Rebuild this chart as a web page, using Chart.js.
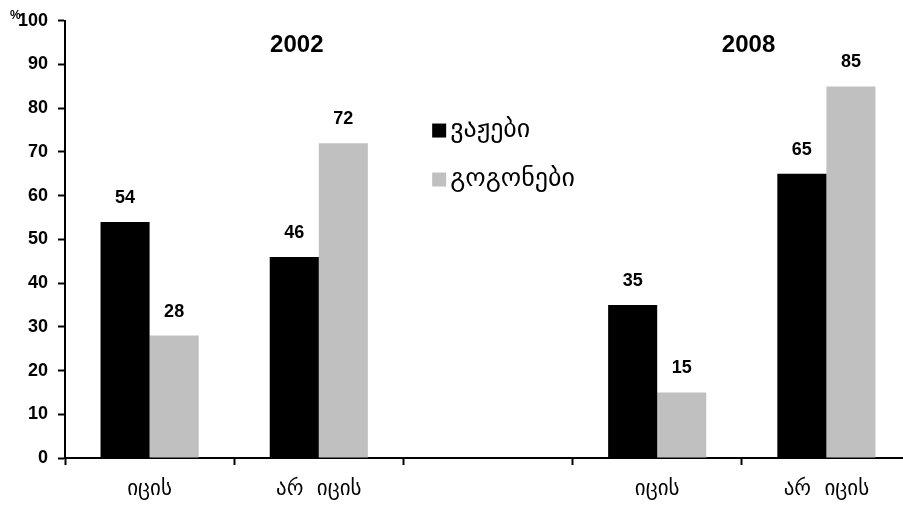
<!DOCTYPE html>
<html>
<head>
<meta charset="utf-8">
<script src="https://cdn.jsdelivr.net/npm/chart.js@4.4.1/dist/chart.umd.min.js"></script>
<style>
html,body{margin:0;padding:0;background:#fff;overflow:hidden;}
#wrap{width:903px;height:505px;position:relative;overflow:hidden;}
canvas{display:block;}
</style>
</head>
<body>
<div id="wrap"><canvas id="c" width="911" height="505"></canvas></div>
<script>
const categories = ["იცის", "არ  იცის", "", "იცის", "არ  იცის"];
const boys = [54, 46, null, 35, 65];
const girls = [28, 72, null, 15, 85];
const seriesNames = ["ვაჟები", "გოგონები"];
const yearTitles = ["2002", "2008"];
const yTicks = [0, 10, 20, 30, 40, 50, 60, 70, 80, 90, 100];

const BOLD = "'Liberation Sans', Arial, sans-serif";
const GEO = "'DejaVu Sans', serif";

const overlay = {
  id: 'overlay',
  afterDatasetsDraw(chart) {
    const ctx = chart.ctx;
    const xs = chart.scales.x, ys = chart.scales.y;
    ctx.save();
    ctx.font = "bold 18px " + BOLD;
    ctx.fillStyle = "#000";
    ctx.textAlign = "center";
    ctx.textBaseline = "middle";
    chart.data.datasets.forEach((ds, di) => {
      const meta = chart.getDatasetMeta(di);
      meta.data.forEach((bar, i) => {
        const v = ds.data[i];
        if (v === null || v === undefined) return;
        ctx.fillText(String(v), bar.x, bar.y - 24);
      });
    });
    ctx.font = "bold 24px " + BOLD;
    ctx.fillText(yearTitles[0], xs.getPixelForValue(0.87), ys.getPixelForValue(94.3));
    ctx.fillText(yearTitles[1], xs.getPixelForValue(3.54), ys.getPixelForValue(94.3));
    ctx.font = "bold 12px " + BOLD;
    ctx.textAlign = "left";
    ctx.fillText("%", 10, ys.getPixelForValue(100) - 5);
    const lx = xs.getPixelForValue(1.67);
    const rows = [ys.getPixelForValue(74.9), ys.getPixelForValue(63.7)];
    chart.data.datasets.forEach((ds, di) => {
      const cy = rows[di];
      ctx.fillStyle = ds.backgroundColor;
      ctx.fillRect(lx, cy - 7, 14, 14);
      ctx.fillStyle = "#000";
      ctx.font = "26px " + GEO;
      ctx.textAlign = "left";
      ctx.textBaseline = "middle";
      ctx.fillText(seriesNames[di], lx + 18, cy);
    });
    ctx.restore();
  }
};

new Chart(document.getElementById('c'), {
  type: 'bar',
  data: {
    labels: categories,
    datasets: [
      { label: seriesNames[0], data: boys, backgroundColor: "#000000", borderWidth: 0 },
      { label: seriesNames[1], data: girls, backgroundColor: "#c0c0c0", borderWidth: 0 }
    ]
  },
  options: {
    responsive: false,
    animation: false,
    events: [],
    layout: { padding: { left: 0, right: 0, top: 20, bottom: 0 } },
    datasets: { bar: { categoryPercentage: 0.58, barPercentage: 1.0 } },
    plugins: { legend: { display: false }, tooltip: { enabled: false } },
    scales: {
      x: {
        grid: { display: true, drawOnChartArea: false, offset: true, drawTicks: true, tickLength: 7, tickWidth: 2, tickColor: "#000" },
        border: { display: true, color: "#000", width: 2 },
        ticks: { color: "#000", font: { family: GEO, size: 21 }, padding: 12, maxRotation: 0, autoSkip: false },
        afterFit(s) { s.height = 47; }
      },
      y: {
        min: 0, max: 100,
        afterBuildTicks(s) { s.ticks = yTicks.map(v => ({ value: v })); },
        grid: { display: true, drawOnChartArea: false, drawTicks: true, tickLength: 7, tickWidth: 2, tickColor: "#000" },
        border: { display: true, color: "#000", width: 2 },
        ticks: { color: "#000", font: { family: BOLD, size: 18, weight: 'bold' }, padding: 10 },
        afterFit(s) { s.width = 65; }
      }
    }
  },
  plugins: [overlay]
});
</script>
</body>
</html>
